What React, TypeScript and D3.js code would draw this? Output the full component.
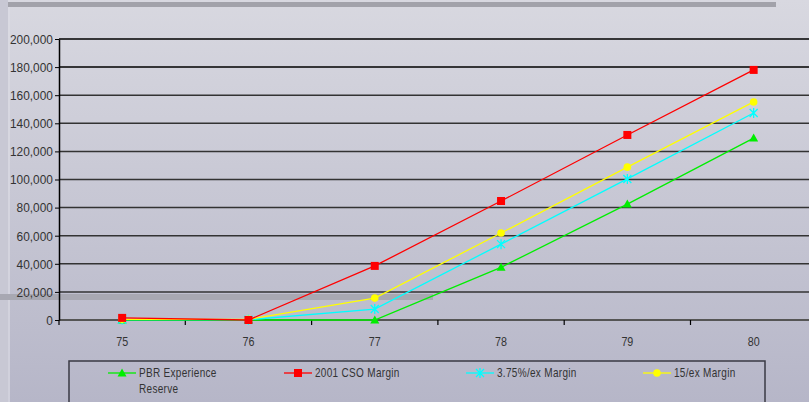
import * as d3 from 'd3';
import React, { useEffect, useRef } from 'react';

const years = ['75', '76', '77', '78', '79', '80'];
const pbrReserve = [0, 0, 0, 37500, 82500, 129500];
const csoMargin = [1500, 0, 38500, 84700, 131700, 178000];
const exMargin375 = [300, 200, 7800, 54000, 100400, 147300];
const exMargin15 = [500, 500, 15600, 61900, 108800, 155200];
const yTicks = [0, 20000, 40000, 60000, 80000, 100000, 120000, 140000, 160000, 180000, 200000];

const seriesList = [
    { name: 'PBR Experience|Reserve', values: pbrReserve, color: '#00ee00', marker: 'triangle' },
    { name: '2001 CSO Margin', values: csoMargin, color: '#ff0000', marker: 'square' },
    { name: '3.75%/ex Margin', values: exMargin375, color: '#00ffff', marker: 'star' },
    { name: '15/ex Margin', values: exMargin15, color: '#ffff00', marker: 'circle' },
];

const W = 809, H = 402;
const FONT = '"Liberation Sans", Arial, sans-serif';

const App = () => {
    const ref = useRef(null);

    useEffect(() => {
        const svg = d3.select(ref.current);
        svg.selectAll('*').remove();

        // background
        const defs = svg.append('defs');
        const grad = defs.append('linearGradient').attr('id', 'bg').attr('x1', 0).attr('y1', 0).attr('x2', 0).attr('y2', 1);
        grad.append('stop').attr('offset', '0%').attr('stop-color', '#d8d8e0');
        grad.append('stop').attr('offset', '100%').attr('stop-color', '#b6b6c8');
        svg.append('rect').attr('width', W).attr('height', H).attr('fill', 'url(#bg)');
        svg.append('rect').attr('x', 0).attr('y', 0).attr('width', 8).attr('height', H).attr('fill', '#c8c8d4');
        svg.append('rect').attr('x', 8).attr('y', 0).attr('width', 2).attr('height', H).attr('fill', '#dcdce4').attr('opacity', 0.7);
        svg.append('rect').attr('x', 8).attr('y', 2).attr('width', 768).attr('height', 5).attr('fill', '#a2a2aa');
        svg.append('rect').attr('x', 0).attr('y', 294).attr('width', 433).attr('height', 6).attr('fill', '#a8a8b2');

        const x = d3.scaleBand().domain(years).range([59, 59 + 126.3 * 6]);
        const y = d3.scaleLinear().domain([0, 200000]).range([320, 39]);
        const cx = (d: string) => (x(d) as number) + x.bandwidth() / 2;

        // grid
        svg.append('g').selectAll('line').data(yTicks.slice(1)).join('line')
            .attr('x1', 59).attr('x2', W)
            .attr('y1', d => y(d)).attr('y2', d => y(d))
            .attr('stroke', d => d >= 180000 ? '#000' : '#333').attr('stroke-width', 1.5);
        svg.append('line').attr('x1', 59).attr('x2', W).attr('y1', y(0)).attr('y2', y(0))
            .attr('stroke', '#555').attr('stroke-width', 2);

        // y axis
        const yAxis = svg.append('g').attr('transform', 'translate(59,0)')
            .call(d3.axisLeft(y).tickValues(yTicks).tickSize(4).tickSizeOuter(0).tickFormat(d3.format(',')));
        yAxis.select('.domain').attr('stroke', '#000').attr('stroke-width', 1.5);
        yAxis.selectAll('.tick line').attr('stroke', '#000');
        yAxis.selectAll('text').attr('fill', '#333').attr('font-size', 13.5).attr('font-family', FONT)
            .attr('transform', 'scale(0.88,1)');

        // x axis ticks
        const xTickPos = years.map(d => x(d) as number);
        svg.append('g').selectAll('line').data(xTickPos).join('line')
            .attr('x1', d => d).attr('x2', d => d).attr('y1', 320).attr('y2', 325)
            .attr('stroke', '#000').attr('stroke-width', 1.2);
        svg.append('g').selectAll('text').data(years).join('text')
            .attr('transform', d => `translate(${cx(d)},346) scale(0.86,1)`).attr('text-anchor', 'middle')
            .attr('fill', '#333').attr('font-size', 12.5).attr('font-family', FONT)
            .text(d => d);

        const drawMarker = (g: any, kind: string, px: number, py: number, color: string) => {
            if (kind === 'square') {
                g.append('rect').attr('x', px - 4).attr('y', py - 4).attr('width', 8).attr('height', 8).attr('fill', color);
            } else if (kind === 'triangle') {
                g.append('path').attr('d', `M${px},${py - 4.5}L${px + 4.5},${py + 3.5}L${px - 4.5},${py + 3.5}Z`).attr('fill', color);
            } else if (kind === 'circle') {
                g.append('circle').attr('cx', px).attr('cy', py).attr('r', 3.8).attr('fill', color);
            } else {
                const s = 4;
                g.append('path').attr('d', `M${px - s},${py - s}L${px + s},${py + s}M${px - s},${py + s}L${px + s},${py - s}M${px},${py - s - 1}L${px},${py + s + 1}`)
                    .attr('stroke', color).attr('stroke-width', 1.3).attr('fill', 'none');
            }
        };

        const line = d3.line<number>().x((_, i) => cx(years[i])).y(d => y(d));
        const drawOrder = [0, 2, 3, 1];
        drawOrder.forEach(si => {
            const s = seriesList[si];
            const g = svg.append('g');
            g.append('path').attr('d', line(s.values)).attr('fill', 'none').attr('stroke', s.color).attr('stroke-width', 1.3);
            s.values.forEach((v, i) => drawMarker(g, s.marker, cx(years[i]), y(v), s.color));
        });

        // legend
        svg.append('rect').attr('x', 69).attr('y', 361).attr('width', 696).attr('height', 45)
            .attr('fill', 'none').attr('stroke', '#3a3a44').attr('stroke-width', 1.5);
        const legX = [108, 284, 466, 643];
        seriesList.forEach((s, i) => {
            const g = svg.append('g');
            const lx = legX[i];
            g.append('line').attr('x1', lx).attr('x2', lx + 28).attr('y1', 373).attr('y2', 373).attr('stroke', s.color).attr('stroke-width', 1.3);
            drawMarker(g, s.marker, lx + 14, 373, s.color);
            s.name.split('|').forEach((t, j) => {
                g.append('text').attr('transform', `translate(${lx + 31},${377 + j * 16}) scale(0.8,1)`)
                    .attr('fill', '#333').attr('font-size', 12.5).attr('font-family', FONT)
                    .attr('letter-spacing', 0.4)
                    .text(t);
            });
        });
    }, []);

    return <svg ref={ref} width={W} height={H} style={{ position: 'absolute', left: 0, top: 0 }} />;
};

export default App;
